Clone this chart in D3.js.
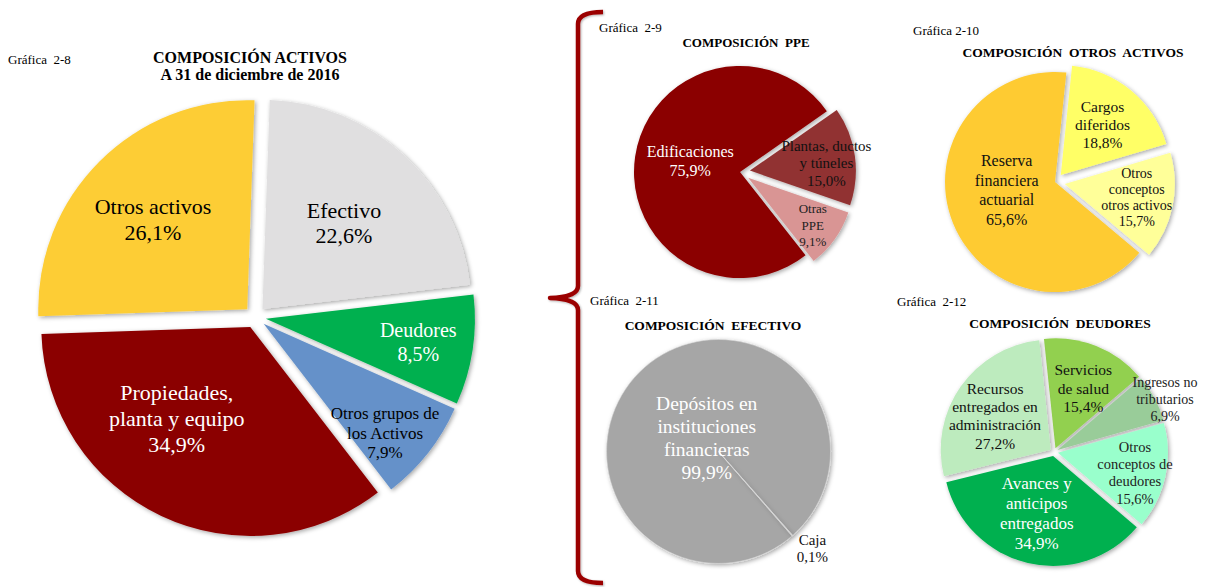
<!DOCTYPE html>
<html><head><meta charset="utf-8">
<script src="https://cdn.jsdelivr.net/npm/d3@7"></script>
<style>
body{margin:0;background:#fff}
svg{display:block}
text{font-family:'Liberation Serif','Times New Roman',serif}
</style>
</head><body>
<svg id="chart" width="1207" height="587"></svg>
<script>
// ---------- DATA ----------
const mainCategories = [["Efectivo"], ["Deudores"], ["Otros grupos de", "los Activos"], ["Propiedades,", "planta y equipo"], ["Otros activos"]];
const mainValues = [22.6, 8.5, 7.9, 34.9, 26.1];
const mainColors = ["#E0DFE0", "#00B050", "#6591C9", "#8B0000", "#FDCD35"];

const ppeCategories = [["Edificaciones"], ["Plantas, ductos", "y túneles"], ["Otras", "PPE"]];
const ppeValues = [75.9, 15.0, 9.1];
const ppeColors = ["#8B0000", "#913333", "#D99594"];

const otrosCategories = [["Reserva", "financiera", "actuarial"], ["Cargos", "diferidos"], ["Otros", "conceptos", "otros activos"]];
const otrosValues = [65.6, 18.8, 15.7];
const otrosColors = ["#FECB33", "#FFFF66", "#FFFF99"];

const efectivoCategories = [["Depósitos en", "instituciones", "financieras"], ["Caja"]];
const efectivoValues = [99.9, 0.1];
const efectivoColors = ["#A6A6A6", "#D0D0D0"];

const deudoresCategories = [["Servicios", "de salud"], ["Ingresos no", "tributarios"], ["Otros", "conceptos de", "deudores"], ["Avances y", "anticipos", "entregados"], ["Recursos", "entregados en", "administración"]];
const deudoresValues = [15.4, 6.9, 15.6, 34.9, 27.2];
const deudoresColors = ["#92D050", "#99CC99", "#99FFCC", "#00B050", "#BDEBBE"];

// ---------- LAYOUT ----------
const svg = d3.select("#chart");
const defs = svg.append("defs");
defs.append("filter").attr("id", "sh").attr("x", "-20%").attr("y", "-20%").attr("width", "140%").attr("height", "140%")
  .append("feDropShadow").attr("dx", 1.5).attr("dy", 1.5).attr("stdDeviation", 2)
  .attr("flood-color", "#000").attr("flood-opacity", 0.35);
defs.append("filter").attr("id", "shb").attr("x", "-50%").attr("y", "-5%").attr("width", "200%").attr("height", "110%")
  .append("feDropShadow").attr("dx", 1).attr("dy", 1).attr("stdDeviation", 1)
  .attr("flood-color", "#000").attr("flood-opacity", 0.3);

const fmt = v => v.toFixed(1).replace(".", ",") + "%";
const rad = d => d * Math.PI / 180;

function drawPie(c) {
  const g = svg.append("g").attr("transform", `translate(${c.cx},${c.cy})`);
  const data = c.values.map((v, i) => ({v, i}));
  const pie = d3.pie().sort(null).value(d => d.v)
    .startAngle(rad(c.start)).endAngle(rad(c.start) + 2 * Math.PI);
  const arcs = pie(data);
  const arc = d3.arc().innerRadius(0).outerRadius(c.r);
  g.selectAll("path.slice").data(arcs).join("path")
    .attr("class", "slice")
    .attr("d", arc)
    .attr("transform", a => {
      const [ox, oy] = d3.pointRadial((a.startAngle + a.endAngle) / 2, c.explode[a.index]);
      return `translate(${ox},${oy})`;
    })
    .attr("fill", a => c.colors[a.index])
    .attr("stroke", c.stroke || "none")
    .attr("stroke-width", c.strokeWidth || 0)
    .attr("filter", "url(#sh)");

  arcs.forEach(a => {
    const i = a.index;
    const mid = (a.startAngle + a.endAngle) / 2 + rad(c.labelShift[i]);
    const [lx, ly] = d3.pointRadial(mid, c.r * c.labelRatio[i]);
    const lines = c.categories[i].concat([fmt(c.values[i])]);
    const fs = c.fontSize[i], lh = c.lineHeight[i];
    const t = g.append("text").attr("text-anchor", "middle")
      .attr("fill", c.textColor[i]).attr("font-size", fs);
    lines.forEach((ln, k) => {
      t.append("tspan").attr("x", lx)
        .attr("y", ly + (k - (lines.length - 1) / 2) * lh + fs * 0.34)
        .text(ln);
    });
  });
}

function heading(x, y, txt, size, bold, anchor) {
  svg.append("text").attr("x", x).attr("y", y).attr("font-size", size)
    .attr("font-weight", bold ? "bold" : "normal")
    .attr("text-anchor", anchor || "start").attr("fill", "#000")
    .style("white-space", "pre").text(txt);
}

// Main chart
heading(8, 64, "Gráfica  2-8", 13, false);
heading(250, 63, "COMPOSICIÓN ACTIVOS", 16, true, "middle");
heading(250, 80, "A 31 de diciembre de 2016", 16, true, "middle");
drawPie({
  cx: 255, cy: 317, r: 209, start: 2,
  categories: mainCategories, values: mainValues, colors: mainColors,
  explode: [11, 11, 11, 11, 11],
  labelShift: [0.6, 0, 3.5, 12.5, -1.4],
  labelRatio: [0.621, 0.79, 0.833, 0.612, 0.674],
  fontSize: [22, 20, 17, 22, 22],
  lineHeight: [25, 24, 19.7, 26, 26],
  textColor: ["#000", "#fff", "#000", "#fff", "#000"]
});

// Gráfica 2-9
heading(599, 32, "Gráfica  2-9", 13, false);
heading(746, 47, "COMPOSICIÓN  PPE", 13, true, "middle");
drawPie({
  cx: 740, cy: 172, r: 106, start: 141.8,
  categories: ppeCategories, values: ppeValues, colors: ppeColors,
  explode: [0, 10, 10],
  labelShift: [3.5, 2, 0.7],
  labelRatio: [0.48, 0.82, 0.85],
  fontSize: [16, 15, 13],
  lineHeight: [19, 17.5, 16.7],
  textColor: ["#fff", "#111", "#222"]
});

// Gráfica 2-10
heading(913, 35, "Gráfica 2-10", 13, false);
heading(1073, 57, "COMPOSICIÓN  OTROS  ACTIVOS", 13.5, true, "middle");
drawPie({
  cx: 1055, cy: 182, r: 110, start: 130,
  categories: otrosCategories, values: otrosValues, colors: otrosColors,
  explode: [0, 9, 10],
  labelShift: [12.7, -0.3, -1.1],
  labelRatio: [0.445, 0.68, 0.756],
  fontSize: [16, 15.5, 14],
  lineHeight: [19.7, 18, 16],
  textColor: ["#111", "#111", "#111"]
});

// Gráfica 2-11
heading(590, 305, "Gráfica  2-11", 13, false);
heading(713, 330, "COMPOSICIÓN  EFECTIVO", 13.5, true, "middle");
drawPie({
  cx: 718.5, cy: 451.5, r: 112, start: 138.9,
  categories: efectivoCategories, values: efectivoValues, colors: efectivoColors,
  stroke: "#D8D8D8", strokeWidth: 0.6,
  explode: [0, 0],
  labelShift: [0.7, -2.9],
  labelRatio: [0.162, 1.203],
  fontSize: [19.5, 15],
  lineHeight: [22.8, 17.4],
  textColor: ["#fff", "#111"]
});

// Gráfica 2-12
heading(897, 306, "Gráfica  2-12", 13, false);
heading(1060, 328, "COMPOSICIÓN  DEUDORES", 13.5, true, "middle");
drawPie({
  cx: 1054, cy: 452, r: 110, start: -6,
  categories: deudoresCategories, values: deudoresValues, colors: deudoresColors,
  explode: [4, 4, 4, 4, 4],
  labelShift: [3, 2.6, 2.1, 2.5, -3.5],
  labelRatio: [0.637, 1.118, 0.76, 0.579, 0.629],
  fontSize: [15.5, 14, 14.5, 17, 15.5],
  lineHeight: [18.3, 17, 17.2, 20, 18.3],
  textColor: ["#111", "#222", "#222", "#fff", "#111"]
});

// Brace
svg.append("path")
  .attr("d", "M603,12 Q578,12 578,24 L578,286 Q578,297 550,298 Q578,299 578,310 L578,571 Q578,583 603,583")
  .attr("fill", "none").attr("stroke", "#9B0000").attr("stroke-width", 4.5)
  .attr("stroke-linejoin", "round").attr("filter", "url(#shb)");
</script>
</body></html>
